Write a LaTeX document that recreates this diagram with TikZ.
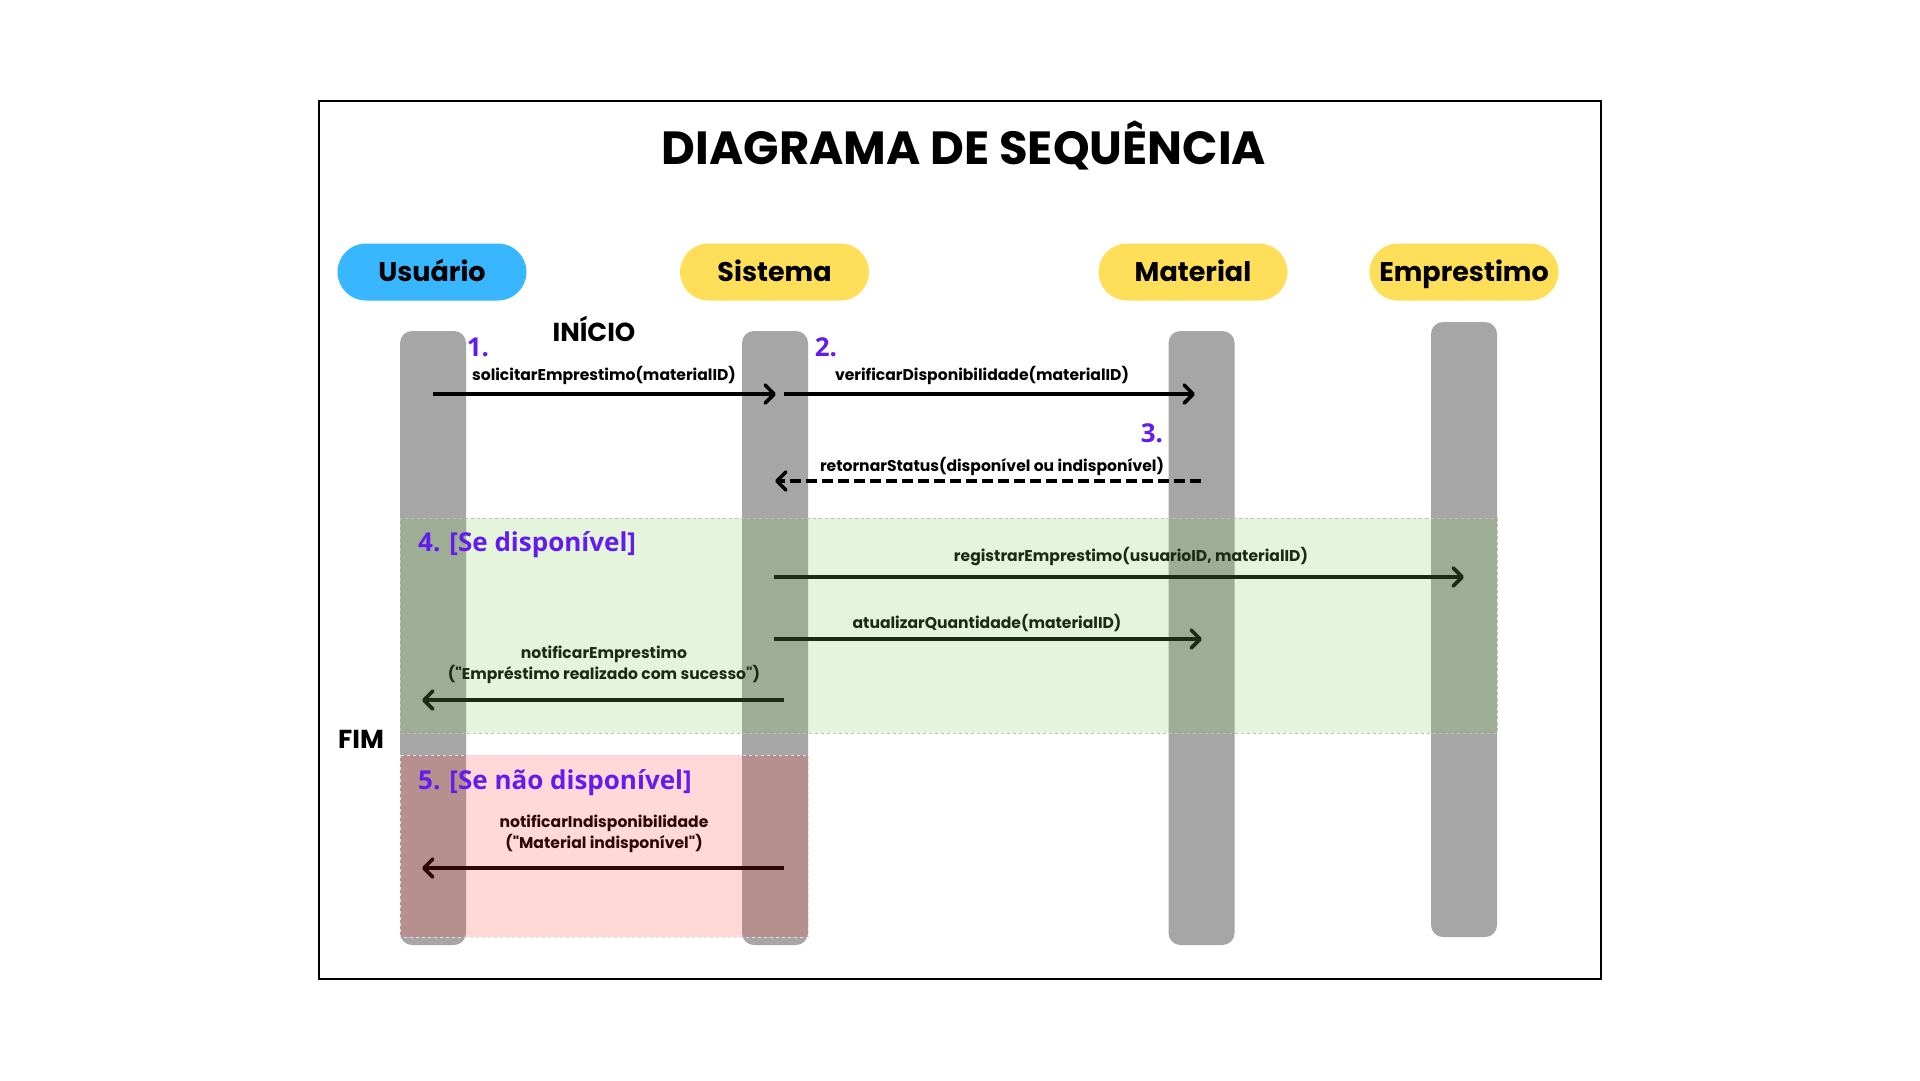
\documentclass[tikz,border=0pt]{standalone}
\usepackage{fontspec}
\setmainfont{Poppins}[Ligatures=TeXOff]
\newfontfamily\stepfont{Open Sans}
\usetikzlibrary{arrows.meta}

\definecolor{userblue}{RGB}{56,182,255}
\definecolor{actyellow}{RGB}{255,222,89}
\definecolor{bargray}{RGB}{166,166,166}
\definecolor{steppurple}{RGB}{100,28,238}
\definecolor{okgreen}{RGB}{128,208,90}
\definecolor{failred}{RGB}{255,40,40}

\tikzset{
  actor/.style={rounded corners=28.5pt, minimum width=189pt, minimum height=57pt,
    inner sep=0pt, text height=21pt, text depth=2pt, font=\fontsize{27}{30}\selectfont\bfseries},
  lifebar/.style={fill=bargray, rounded corners=12pt, minimum width=66pt, inner sep=0pt},
  msg/.style={line width=3.6pt, -{Straight Barb[length=9pt,width=18pt,line cap=round,line join=round]}},
  retmsg/.style={msg, dash pattern=on 11pt off 5pt},
  msglabel/.style={font=\bfseries\fontsize{15.6}{21}\selectfont, align=center, inner sep=0pt},
  steplabel/.style={font=\stepfont\bfseries\fontsize{26}{30}\selectfont, text=steppurple, inner sep=0pt},
  marker/.style={font=\fontsize{26}{30}\selectfont\bfseries, inner sep=0pt},
  region/.style={draw=black!25, line width=0.8pt, dashed},
}

\begin{document}
\begin{tikzpicture}[x=1pt,y=-1pt]
\useasboundingbox (0,0) rectangle (1920,1080);
\fill[white] (0,0) rectangle (1920,1080);

% outer frame
\draw[line width=2pt] (319,101) rectangle (1601,979);

% title
\node[font=\fontsize{46.5}{50}\selectfont\bfseries] (title) at (964,145) {DIAGRAMA DE SEQUÊNCIA};

% participants
\node[actor, fill=userblue]  (usuario)    at (432,272)  {Usuário};
\node[actor, fill=actyellow] (sistema)    at (774.5,272) {Sistema};
\node[actor, fill=actyellow] (material)   at (1193,272) {Material};
\node[actor, fill=actyellow] (emprestimo) at (1464,272) {Emprestimo};

% lifelines
\node[lifebar, minimum height=614pt] (ubar) at (433,638) {};
\node[lifebar, minimum height=614pt] (sbar) at (775,638) {};
\node[lifebar, minimum height=614pt] (mbar) at (1201.5,638) {};
\node[lifebar, minimum height=615pt] (ebar) at (1464,629.5) {};

% start / end markers
\node[marker] (inicio) at (594,329) {INÍCIO};
\node[marker] (fim) at (361,739) {FIM};

% message end points on the lifelines
\coordinate (u1) at (433,394);   \coordinate (s1) at (776,394);
\coordinate (s2) at (784,394);   \coordinate (m2) at (1195,394);
\coordinate (m3) at (1201,481);  \coordinate (s3) at (775,481);
\coordinate (s4) at (774,577);   \coordinate (e4) at (1464,577);
\coordinate (s5) at (774,639);   \coordinate (m5) at (1202,639);
\coordinate (s6) at (784,700);   \coordinate (u6) at (422,700);
\coordinate (s7) at (784,868);   \coordinate (u7) at (422,868);

% messages
\draw[msg] (u1) -- (s1);
\draw[msg] (s2) -- (m2);
\draw[retmsg] (m3) -- (s3);
\draw[msg] (s4) -- (e4);
\draw[msg] (s5) -- (m5);
\draw[msg] (s6) -- (u6);
\draw[msg] (s7) -- (u7);

% message labels
\node[msglabel] (l1) at (604,375) {solicitarEmprestimo(materialID)};
\node[msglabel] (l2) at (982,375) {verificarDisponibilidade(materialID)};
\node[msglabel] (l3) at (992,466) {retornarStatus(disponível ou indisponível)};
\node[msglabel] (l4) at (1131,557) {registrarEmprestimo(usuarioID, materialID)};
\node[msglabel] (l5) at (987,623) {atualizarQuantidade(materialID)};
\node[msglabel] (l6) at (604,665) {notificarEmprestimo\\("Empréstimo realizado com sucesso")};
\node[msglabel] (l7) at (604,834) {notificarIndisponibilidade\\("Material indisponível")};

% conditional regions
\fill[okgreen, fill opacity=0.21] (400,518) rectangle (1497,733);
\draw[region] (400,518) rectangle (1497,733);
\fill[failred, fill opacity=0.18] (400,755) rectangle (808,937);
\draw[region, draw=black!12] (400,755) rectangle (808,937);

% step numbers
\node[steplabel] (n1) at (478,347) {1.};
\node[steplabel] (n2) at (826,347) {2.};
\node[steplabel] (n3) at (1152,433) {3.};
\node[steplabel, anchor=west] (n4) at (418,545) {4. [Se disponível]};
\node[steplabel, anchor=west] (n5) at (418,783) {5. [Se não disponível]};
\end{tikzpicture}
\end{document}
